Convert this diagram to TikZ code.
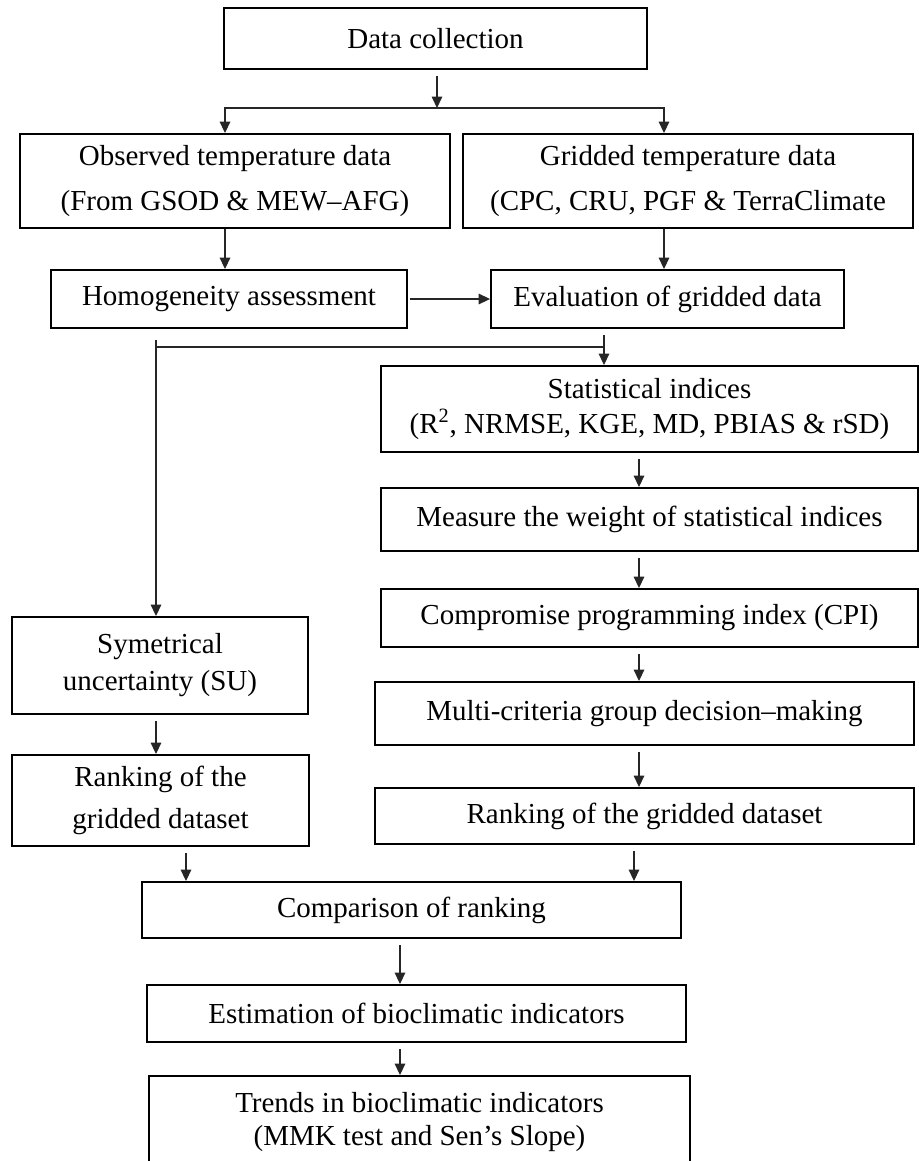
\documentclass[tikz,border=0pt]{standalone}
\usepackage{fontspec}
\setmainfont{Liberation Serif}
\usetikzlibrary{arrows.meta, positioning}

\begin{document}
\begin{tikzpicture}[
                x=0.02cm, y=-0.02cm,
                >={Triangle[length=6.5pt,width=6pt]},
                box/.style={
                    draw,
                    line width=1.1pt,
                    inner sep=0pt,
                    align=center
                },
                arr/.style={
                    ->,
                    black!85,
                    line width=0.7pt
                },
                link/.style={
                    black!85,
                    line width=0.7pt
                },
                gap/.style={
                    shorten <=3.5pt
                },
                every node/.style={font=\fontsize{16.5}{19}\selectfont}
            ]
                \useasboundingbox (0,0) rectangle (919,1161);

                \node[box, minimum width=8.46cm, minimum height=1.22cm] (collect) at (435.5,38.5) {Data collection};
                \node[box, minimum width=8.6cm, minimum height=1.88cm] (observed) at (235,181) {Observed temperature data\\[7pt] (From GSOD \& MEW–AFG)};
                \node[box, minimum width=9cm, minimum height=1.88cm] (gridded) at (688,181) {Gridded temperature data\\[7pt] (CPC, CRU, PGF \& TerraClimate};
                \node[box, minimum width=7.12cm, minimum height=1.16cm] (homog) at (229,299) {Homogeneity assessment};
                \node[box, minimum width=7.06cm, minimum height=1.16cm] (evalu) at (667.5,299) {Evaluation of gridded data};
                \node[box, minimum width=10.74cm, minimum height=1.72cm] (statind) at (649.5,409) {Statistical indices\\[1pt] (R\textsuperscript{2}, NRMSE, KGE, MD, PBIAS \& rSD)};
                \node[box, minimum width=10.74cm, minimum height=1.26cm] (weight) at (649.5,519.5) {Measure the weight of statistical indices};
                \node[box, minimum width=10.74cm, minimum height=1.16cm] (cpi) at (649.5,618) {Compromise programming index (CPI)};
                \node[box, minimum width=10.78cm, minimum height=1.26cm] (mcgdm) at (644.5,713.5) {Multi-criteria group decision–making};
                \node[box, minimum width=5.92cm, minimum height=1.94cm] (symunc) at (160,665.5) {Symetrical\\[2pt] uncertainty (SU)};
                \node[box, minimum width=5.94cm, minimum height=1.82cm] (rankl) at (160.5,800.5) {Ranking of the\\[5pt] gridded dataset};
                \node[box, minimum width=10.78cm, minimum height=1.12cm] (rankr) at (644.5,816) {Ranking of the gridded dataset};
                \node[box, minimum width=10.78cm, minimum height=1.12cm] (compar) at (411.5,910) {Comparison of ranking};
                \node[box, minimum width=10.78cm, minimum height=1.14cm] (estim) at (416.5,1013.5) {Estimation of bioclimatic indicators};
                \node[box, minimum width=10.82cm, minimum height=1.84cm] (trends) at (419.5,1122) {Trends in bioclimatic indicators\\[0pt] (MMK test and Sen’s Slope)};

                \coordinate (split) at (437,108);
                \coordinate (merge) at (156,347);
                \coordinate (cA) at (225,0);
                \coordinate (cB) at (664,0);
                \coordinate (cC) at (604,0);
                \coordinate (cE) at (639,0);
                \coordinate (cF) at (186,0);
                \coordinate (cG) at (634,0);
                \coordinate (cH) at (400,0);

                \draw[arr, gap] (collect.south -| split) -- (split);
                \draw[arr] (split) -| (observed.north -| cA);
                \draw[arr] (split) -| (gridded.north -| cB);
                \draw[arr] (observed.south -| cA) -- (homog.north -| cA);
                \draw[arr] (gridded.south -| cB) -- (evalu.north -| cB);
                \draw[arr, shorten <=1pt] (homog.east) -- (evalu.west);
                \draw[arr, gap] (evalu.south -| cC) -- (statind.north -| cC);
                \draw[link] (merge) -- (merge -| cC);
                \draw[arr] ([yshift=0.14cm]merge) -- (symunc.north -| merge);
                \foreach \a/\b in {statind/weight, weight/cpi, cpi/mcgdm, mcgdm/rankr}
                    \draw[arr, gap] (\a.south -| cE) -- (\b.north -| cE);
                \draw[arr, gap] (symunc.south -| merge) -- (rankl.north -| merge);
                \draw[arr, gap] (rankl.south -| cF) -- (compar.north -| cF);
                \draw[arr, gap] (rankr.south -| cG) -- (compar.north -| cG);
                \draw[arr, gap] (compar.south -| cH) -- (estim.north -| cH);
                \draw[arr, gap] (estim.south -| cH) -- (trends.north -| cH);
            \end{tikzpicture}
\end{document}
